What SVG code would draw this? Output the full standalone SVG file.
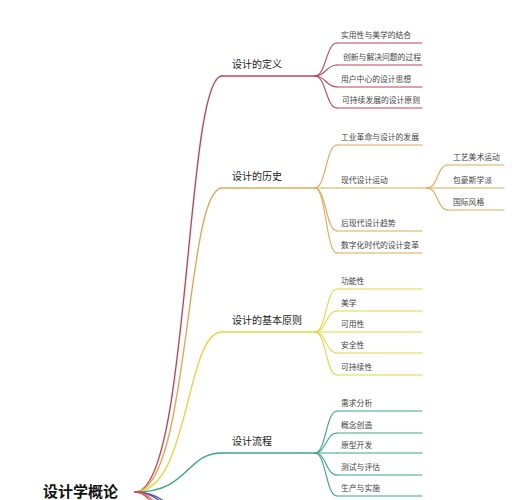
<svg xmlns="http://www.w3.org/2000/svg" width="530" height="500" viewBox="0 0 530 500">
<style>
text{font-family:"Noto Sans CJK SC","Noto Sans",sans-serif;fill:#333}
.root{font-size:15px;font-weight:bold;fill:#111}
.main{font-size:10px;fill:#222}
.sub{font-size:7.8px;fill:#444}
path,line{fill:none;stroke-linecap:round}
.c1{stroke:#c0475a}.c2{stroke:#e3a857}.c3{stroke:#e6d545}.c4{stroke:#3aa886}
.c5{stroke:#4a5fc1}.c6{stroke:#7048a8}.c7{stroke:#e8743b}.c8{stroke:#d9534f}
.m{stroke-width:1.4}.s{stroke-width:1.1}
</style>
<rect width="530" height="500" fill="#fff"/>
<g id="connectors">
<path class="c1 m" d="M135,492 C190,492 185,76 222,76"/>
<path class="c2 m" d="M135,492 C190,492 185,188 222,188"/>
<path class="c3 m" d="M135,492 C190,492 185,332 222,332"/>
<path class="c4 m" d="M135,492 C190,492 185,453 222,453"/>
<path class="c5 m" d="M135,492 C190,492 185,565 222,565"/>
<path class="c6 m" d="M135,492 C190,492 185,595 222,595"/>
<path class="c7 m" d="M135,492 C190,492 185,690 222,690"/>
<path class="c8 m" d="M135,492 C190,492 185,790 222,790"/>
<path class="c1 s" d="M315,76 C326,76 326,43 337,43"/>
<path class="c1 s" d="M315,76 C326,76 326,65 337,65"/>
<path class="c1 s" d="M315,76 C326,76 326,87 337,87"/>
<path class="c1 s" d="M315,76 C326,76 326,108 337,108"/>
<path class="c2 s" d="M315,188 C326,188 326,145 337,145"/>
<path class="c2 s" d="M315,188 L337,188"/>
<path class="c2 s" d="M315,188 C326,188 326,231 337,231"/>
<path class="c2 s" d="M315,188 C326,188 326,253 337,253"/>
<path class="c2 s" d="M427,188 C438,188 437,165 448,165"/>
<path class="c2 s" d="M427,188 L448,188"/>
<path class="c2 s" d="M427,188 C438,188 437,210 448,210"/>
<path class="c3 s" d="M315,332 C326,332 326,289 337,289"/>
<path class="c3 s" d="M315,332 C326,332 326,311 337,311"/>
<path class="c3 s" d="M315,332 L337,332"/>
<path class="c3 s" d="M315,332 C326,332 326,353 337,353"/>
<path class="c3 s" d="M315,332 C326,332 326,375 337,375"/>
<path class="c4 s" d="M315,453 C326,453 326,411 337,411"/>
<path class="c4 s" d="M315,453 C326,453 326,433 337,433"/>
<path class="c4 s" d="M315,453 L337,453"/>
<path class="c4 s" d="M315,453 C326,453 326,475 337,475"/>
<path class="c4 s" d="M315,453 C326,453 326,496 337,496"/>
</g>
<g id="root"><text class="root" x="43" y="496.5">设计学概论</text></g>
<g id="n-def"><line class="c1 m" x1="222" y1="76" x2="315" y2="76"/><text class="main" x="232" y="68">设计的定义</text></g>
<g id="n-def-1"><line class="c1 s" x1="337" y1="43" x2="422" y2="43"/><text class="sub" x="341" y="38">实用性与美学的结合</text></g>
<g id="n-def-2"><line class="c1 s" x1="337" y1="65" x2="422" y2="65"/><text class="sub" x="343" y="60">创新与解决问题的过程</text></g>
<g id="n-def-3"><line class="c1 s" x1="337" y1="87" x2="422" y2="87"/><text class="sub" x="341" y="82">用户中心的设计思想</text></g>
<g id="n-def-4"><line class="c1 s" x1="337" y1="108" x2="422" y2="108"/><text class="sub" x="342" y="103">可持续发展的设计原则</text></g>
<g id="n-his"><line class="c2 m" x1="222" y1="188" x2="315" y2="188"/><text class="main" x="232" y="180">设计的历史</text></g>
<g id="n-his-1"><line class="c2 s" x1="337" y1="145" x2="422" y2="145"/><text class="sub" x="341" y="140">工业革命与设计的发展</text></g>
<g id="n-his-2"><line class="c2 s" x1="337" y1="188" x2="427" y2="188"/><text class="sub" x="341" y="183">现代设计运动</text></g>
<g id="n-his-2-1"><line class="c2 s" x1="448" y1="165" x2="504" y2="165"/><text class="sub" x="453" y="160">工艺美术运动</text></g>
<g id="n-his-2-2"><line class="c2 s" x1="448" y1="188" x2="504" y2="188"/><text class="sub" x="453" y="183">包豪斯学派</text></g>
<g id="n-his-2-3"><line class="c2 s" x1="448" y1="210" x2="504" y2="210"/><text class="sub" x="453" y="205">国际风格</text></g>
<g id="n-his-3"><line class="c2 s" x1="337" y1="231" x2="422" y2="231"/><text class="sub" x="341" y="226">后现代设计趋势</text></g>
<g id="n-his-4"><line class="c2 s" x1="337" y1="253" x2="422" y2="253"/><text class="sub" x="341" y="248">数字化时代的设计变革</text></g>
<g id="n-pri"><line class="c3 m" x1="222" y1="332" x2="315" y2="332"/><text class="main" x="232" y="324">设计的基本原则</text></g>
<g id="n-pri-1"><line class="c3 s" x1="337" y1="289" x2="422" y2="289"/><text class="sub" x="341" y="284">功能性</text></g>
<g id="n-pri-2"><line class="c3 s" x1="337" y1="311" x2="422" y2="311"/><text class="sub" x="341" y="306">美学</text></g>
<g id="n-pri-3"><line class="c3 s" x1="337" y1="332" x2="422" y2="332"/><text class="sub" x="341" y="327">可用性</text></g>
<g id="n-pri-4"><line class="c3 s" x1="337" y1="353" x2="422" y2="353"/><text class="sub" x="341" y="348">安全性</text></g>
<g id="n-pri-5"><line class="c3 s" x1="337" y1="375" x2="422" y2="375"/><text class="sub" x="341" y="370">可持续性</text></g>
<g id="n-pro"><line class="c4 m" x1="222" y1="453" x2="315" y2="453"/><text class="main" x="232" y="445">设计流程</text></g>
<g id="n-pro-1"><line class="c4 s" x1="337" y1="411" x2="422" y2="411"/><text class="sub" x="341" y="406">需求分析</text></g>
<g id="n-pro-2"><line class="c4 s" x1="337" y1="433" x2="422" y2="433"/><text class="sub" x="341" y="428">概念创造</text></g>
<g id="n-pro-3"><line class="c4 s" x1="337" y1="453" x2="422" y2="453"/><text class="sub" x="341" y="448">原型开发</text></g>
<g id="n-pro-4"><line class="c4 s" x1="337" y1="475" x2="422" y2="475"/><text class="sub" x="341" y="470">测试与评估</text></g>
<g id="n-pro-5"><line class="c4 s" x1="337" y1="496" x2="422" y2="496"/><text class="sub" x="341" y="491">生产与实施</text></g>
</svg>
